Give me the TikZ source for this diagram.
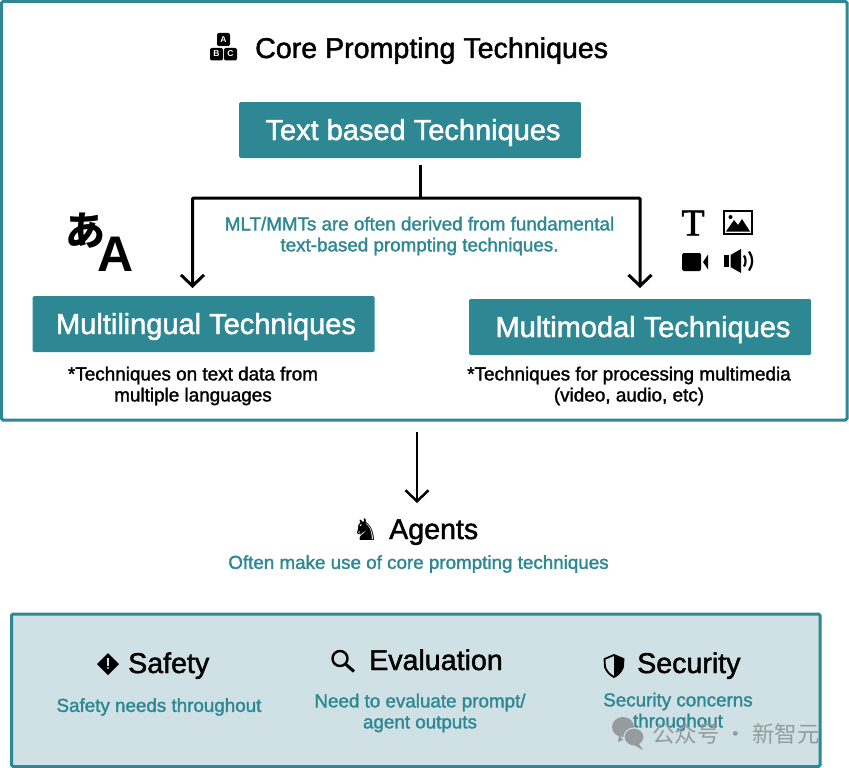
\documentclass[tikz,border=0pt]{standalone}
\usepackage{fontspec}
\usepackage{xcolor}
\usepackage{tikz}
\usetikzlibrary{
	arrows.meta,
	calc,
	shapes.geometric,
	positioning
}
\setmainfont{Liberation Sans}
\newfontfamily\medfont[FakeBold=1.6]{Liberation Sans}
\newfontfamily\serifbold[FakeBold=1.5]{Liberation Serif}
\newfontfamily\cjkjp{Noto Sans CJK JP}
\newfontfamily\cjksc{Noto Sans CJK SC}
\newfontfamily\chess{DejaVu Sans}
\definecolor{CoreTeal}{RGB}{46,136,147}
\definecolor{PaleTeal}{RGB}{207,225,229}
\definecolor{MarkGray}{RGB}{150,155,157}
\tikzset{
	tealbox/.style={fill=CoreTeal,rounded corners=1.5pt,minimum width=342,minimum height=56,inner sep=0pt,text height=20pt,text depth=0pt,text=white,font=\medfont\fontsize{29}{34}\selectfont},
	headlabel/.style={text=black,inner sep=0pt,font=\medfont\fontsize{28.6}{34}\selectfont},
	notelabel/.style={text=CoreTeal,inner sep=0pt,align=center,font=\medfont\fontsize{18.8}{21}\selectfont},
	sublabel/.style={text=black,inner sep=0pt,align=center,font=\medfont\fontsize{18.9}{21}\selectfont},
	blocklabel/.style={text=white,inner sep=0pt,font=\bfseries\fontsize{8.5}{9}\selectfont},
	conn/.style={line width=3pt,-{Straight Barb[length=11pt,width=23pt,line width=3pt]}}
}
\begin{document}
\begin{tikzpicture}[x=1pt,y=-1pt]
	\useasboundingbox (0,0) rectangle (849,768);
	\fill[white] (0,0) rectangle (849,768);

	%外框
	\draw[CoreTeal,line width=3pt,rounded corners=1.5pt] (1.5,1.5) rectangle (847,420);
	\draw[CoreTeal,line width=3pt,fill=PaleTeal,rounded corners=1.5pt] (11.5,614) rectangle (820,766.5);

	%标题
	\node[headlabel,anchor=base west] (coretitle) at (255,58) {Core Prompting Techniques};
	\fill[black,rounded corners=2pt] (217,33) rectangle (230,46);
	\fill[black,rounded corners=2pt] (210,48) rectangle (223,60.5);
	\fill[black,rounded corners=2pt] (224,48) rectangle (237,60.5);
	\node[blocklabel] (blocka) at (223.5,39.5) {A};
	\node[blocklabel] (blockb) at (216.5,54) {B};
	\node[blocklabel] (blockc) at (230.5,54) {C};

	%三个主框
	\node[tealbox] (textbox) at (410,130) {\hspace*{6pt}Text based Techniques};
	\node[tealbox] (multiling) at (203.5,324) {\hspace*{5pt}Multilingual Techniques};
	\node[tealbox] (multimod) at (640,327) {\hspace*{6pt}Multimodal Techniques};

	%连线
	\coordinate (trunk) at (420,165);
	\coordinate (fork) at (420,198);
	\coordinate (linghead) at (192.5,288);
	\coordinate (modhead) at (640,288);
	\draw[line width=3pt] (trunk)--(fork);
	\draw[conn,rounded corners=1pt] (fork)--(linghead|-fork)--(linghead);
	\draw[conn,rounded corners=1pt] (fork)--(modhead|-fork)--(modhead);

	\node[notelabel] (derived) at (419.5,236) {MLT/MMTs are often derived from fundamental\\text-based prompting techniques.};
	\node[sublabel] (lingnote) at (193,386) {*Techniques on text data from\\multiple languages};
	\node[sublabel] (modnote) at (629,386) {*Techniques for processing multimedia\\(video, audio, etc)};

	%语言图标
	\node[inner sep=0pt,font=\cjkjp\bfseries\fontsize{40}{42}\selectfont] (kana) at (85,231) {あ};
	\node[inner sep=0pt,font=\bfseries\fontsize{50}{52}\selectfont] (biga) at (115.5,254) {A};

	%多媒体图标
	\node[inner sep=0pt,font=\serifbold\fontsize{38}{40}\selectfont] (bigt) at (693,223) {T};
	\draw[line width=2pt] (724,211) rectangle (751.5,233.5);
	\fill (726,231.5)--(734,220)--(738,225)--(742,219)--(750,231.5)--cycle;
	\fill (730.5,217) circle (2pt);
	\fill[rounded corners=1.5pt] (682,253) rectangle (701,271);
	\fill (703,262)--(708,254.5)--(708,269.5)--cycle;
	\fill (724,255) rectangle (729,267);
	\fill (730.5,255)--(741,249)--(741,273)--(730.5,267)--cycle;
	\draw[line width=2.2pt] (744,255.5) to[bend left=30] (744,266.5);
	\draw[line width=2.2pt] (749,251.5) to[bend left=35] (749,270.5);

	%Agents
	\coordinate (frameout) at (417,432);
	\coordinate (agenthead) at (417,503);
	\draw[line width=2.5pt,-{Straight Barb[length=11pt,width=23pt,line width=2.5pt]}] (frameout)--(agenthead);
	\node[headlabel,anchor=base west] (agents) at (389,539) {Agents};
	\node[inner sep=0pt,font=\chess\fontsize{30}{31}\selectfont] (knight) at (366,530) {♞};
	\node[notelabel] (agentnote) at (418.5,564) {Often make use of core prompting techniques};

	%底部
	\node[headlabel,anchor=base west] (safety) at (128,673) {Safety};
	\node[headlabel,anchor=base west] (evaluation) at (369,670) {Evaluation};
	\node[headlabel,anchor=base west] (security) at (637,673) {Security};
	\node[notelabel] (safetynote) at (159,707) {Safety needs throughout};
	\node[notelabel] (evalnote) at (420,713) {Need to evaluate prompt/\\agent outputs};
	\node[notelabel] (secnote) at (678,712) {Security concerns\\throughout};

	%底部图标
	\fill (108,653)--(119,664)--(108,675)--(97,664)--cycle;
	\fill[PaleTeal] (107,657.5) rectangle (109,665.5);
	\fill[PaleTeal] (108,668) circle (1.2pt);
	\draw[line width=2.4pt] (340,658.5) circle (7.5pt);
	\draw[line width=3pt] (346,664.5)--(354,671.5);
	\draw[line width=1.8pt] (604.5,659)--(614,655)--(623.5,659)--(623,667) to[bend left=20] (614,677) to[bend left=20] (605,667)--cycle;
	\fill (614,655)--(623.5,659)--(623,667) to[bend left=20] (614,677)--cycle;

	%水印
	\fill[MarkGray] (623,727) ellipse (11 and 10);
	\fill[MarkGray] (623,740)--(618,742)--(619,735)--cycle;
	\draw[PaleTeal,line width=1pt,fill=MarkGray] (634,737) ellipse (10 and 9);
	\fill[MarkGray] (639,744)--(643,750)--(634,745)--cycle;
	\node[text=MarkGray,inner sep=0pt,anchor=west,font=\cjksc\fontsize{22.5}{24}\selectfont] (watermark) at (652,734) {公众号 · 新智元};
\end{tikzpicture}
\end{document}
